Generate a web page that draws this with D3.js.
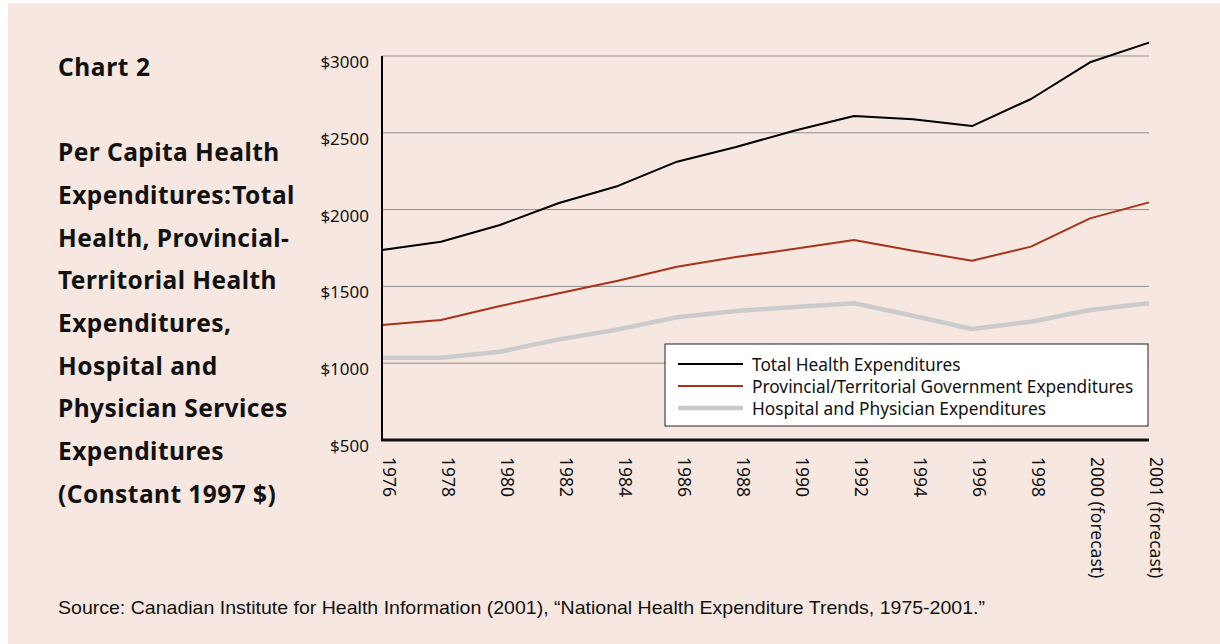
<!DOCTYPE html>
<html>
<head>
<meta charset="utf-8">
<script src="https://cdn.jsdelivr.net/npm/d3@7"></script>
<style>
  html, body { margin: 0; padding: 0; background: #ffffff; }
  svg { display: block; }
</style>
</head>
<body>
<svg id="chart" width="1220" height="644"></svg>
<script>
// ---- Data ----
const categories = ["1976","1978","1980","1982","1984","1986","1988","1990","1992","1994","1996","1998","2000","2001"];
const categoryLabels = ["1976","1978","1980","1982","1984","1986","1988","1990","1992","1994","1996","1998","2000 (forecast)","2001 (forecast)"];
const totalHealth = [1737, 1791, 1900, 2043, 2154, 2312, 2408, 2515, 2609, 2588, 2544, 2720, 2959, 3087];
const provTerr    = [1249, 1281, 1372, 1455, 1537, 1628, 1691, 1745, 1802, 1732, 1667, 1759, 1943, 2047];
const hospPhys    = [1036, 1036, 1075, 1155, 1220, 1299, 1340, 1366, 1390, 1309, 1223, 1270, 1346, 1390];
const yTicks = [500, 1000, 1500, 2000, 2500, 3000];
const seriesNames = ["Total Health Expenditures", "Provincial/Territorial Government Expenditures", "Hospital and Physician Expenditures"];
const titleLines = ["Per Capita Health", "Expenditures: Total", "Health, Provincial-", "Territorial Health", "Expenditures,", "Hospital and", "Physician Services", "Expenditures", "(Constant 1997 $)"];
const chartLabel = "Chart 2";
const sourceText = "Source: Canadian Institute for Health Information (2001), \u201cNational Health Expenditure Trends, 1975-2001.\u201d";

// ---- Layout / style ----
const svg = d3.select("#chart");
const BG = "#f6e8e0";
const plot = { left: 382, right: 1149, top: 56, bottom: 440 };
const seriesStyle = [
  { color: "#000000", width: 2 },
  { color: "#a8321a", width: 2 },
  { color: "#cbcbcb", width: 4.5 }
];
const allSeries = [totalHealth, provTerr, hospPhys];

svg.append("rect").attr("x", 8).attr("y", 3).attr("width", 1212).attr("height", 641).attr("fill", BG);

const x = d3.scalePoint().domain(categories).range([plot.left, plot.right]);
const y = d3.scaleLinear().domain([500, 3000]).range([plot.bottom, plot.top]);

// Gridlines
svg.append("g").selectAll("line").data(yTicks.filter(d => d > 500)).join("line")
  .attr("x1", plot.left).attr("x2", plot.right)
  .attr("y1", d => y(d)).attr("y2", d => y(d))
  .attr("stroke", "#8c8c8c").attr("stroke-width", 1);

// Y axis tick labels
const yAxis = d3.axisLeft(y).tickValues(yTicks).tickSize(0).tickPadding(13).tickFormat(d => "$" + d);
const gy = svg.append("g").attr("transform", `translate(${plot.left},0)`).call(yAxis);
gy.select(".domain").remove();
gy.selectAll("text")
  .attr("font-family", "'Noto Sans', sans-serif").attr("font-size", 17).attr("fill", "#111")
  .attr("dy", "0.68em");

// X axis labels
const xAxis = d3.axisBottom(x).tickSize(0).tickFormat((d, i) => categoryLabels[i]);
const gx = svg.append("g").attr("transform", `translate(0,${plot.bottom})`).call(xAxis);
gx.select(".domain").remove();
gx.selectAll("text")
  .attr("font-family", "'Noto Sans', sans-serif").attr("font-size", 17.5).attr("fill", "#111")
  .attr("text-anchor", "start")
  .attr("dy", null).attr("y", null)
  .attr("dominant-baseline", "central")
  .attr("transform", "translate(7,17) rotate(90)");

// Lines
const line = d3.line().x((d, i) => x(categories[i])).y(d => y(d));
[2, 1, 0].forEach(k => {
  svg.append("path").datum(allSeries[k])
    .attr("d", line).attr("fill", "none")
    .attr("stroke", seriesStyle[k].color).attr("stroke-width", seriesStyle[k].width)
    .attr("stroke-linejoin", "round");
});

// Axis lines
svg.append("line").attr("x1", plot.left).attr("x2", plot.left).attr("y1", plot.top).attr("y2", plot.bottom + 1)
  .attr("stroke", "#000").attr("stroke-width", 2);
svg.append("line").attr("x1", plot.left - 1).attr("x2", plot.right).attr("y1", plot.bottom).attr("y2", plot.bottom)
  .attr("stroke", "#111").attr("stroke-width", 3);

// Legend
const lg = svg.append("g").attr("transform", "translate(665,344)");
lg.append("rect").attr("width", 483).attr("height", 82).attr("fill", "#ffffff").attr("stroke", "#222").attr("stroke-width", 1);
const rows = lg.selectAll("g.row").data(seriesNames).join("g").attr("class", "row")
  .attr("transform", (d, i) => `translate(0,${20 + i * 22})`);
rows.append("line").attr("x1", 13).attr("x2", 78).attr("y1", 0).attr("y2", 0)
  .attr("stroke", (d, i) => seriesStyle[i].color).attr("stroke-width", (d, i) => seriesStyle[i].width);
rows.append("text").attr("x", 87).attr("y", 0).attr("dominant-baseline", "central")
  .attr("font-family", "'Noto Sans', sans-serif").attr("font-size", 17.3).attr("fill", "#111")
  .text(d => d);

// Title block
const tf = "'Noto Sans', 'Open Sans', sans-serif";
svg.append("text").attr("x", 58).attr("y", 66).attr("dominant-baseline", "central")
  .attr("font-family", tf).attr("font-weight", "bold").attr("font-size", 24.5).attr("letter-spacing", 0.6)
  .attr("fill", "#111").text(chartLabel);
svg.append("g").selectAll("text").data(titleLines).join("text")
  .attr("x", 58).attr("y", (d, i) => 151.7 + i * 42.7).attr("dominant-baseline", "central")
  .attr("font-family", tf).attr("font-weight", "bold").attr("font-size", 24.5).attr("letter-spacing", 0.45)
  .attr("word-spacing", d => d.indexOf(":") >= 0 ? -6 : 0)
  .attr("fill", "#111")
  .text(d => d);

// Source
svg.append("text").attr("x", 58).attr("y", 607).attr("dominant-baseline", "central")
  .attr("font-family", "'Liberation Sans Narrow', 'Liberation Sans', sans-serif").attr("font-size", 18.5).attr("fill", "#111")
  .attr("textLength", 927).attr("lengthAdjust", "spacingAndGlyphs")
  .text(sourceText);
</script>
</body>
</html>
